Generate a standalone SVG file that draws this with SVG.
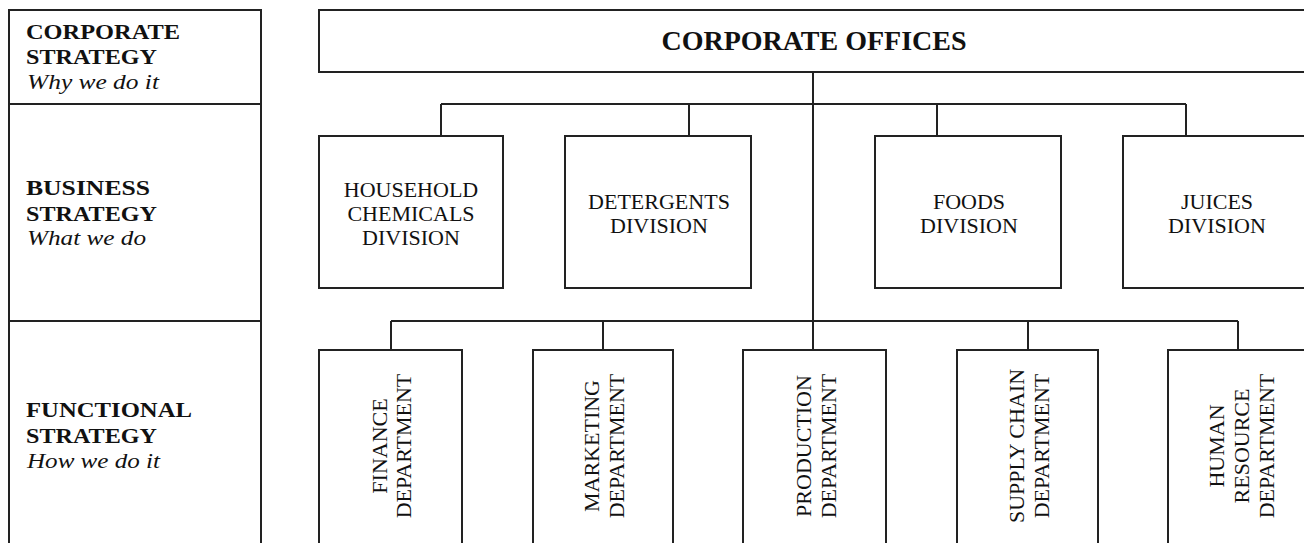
<svg xmlns="http://www.w3.org/2000/svg" width="1304" height="543" viewBox="0 0 1304 543">
<style>
.box{fill:#fff;stroke:#222;stroke-width:2}
.ln{fill:none;stroke:#222;stroke-width:2}
.t{font-family:"Liberation Serif","Times New Roman",serif;font-size:22px;fill:#111;text-anchor:middle}
.lb{font-family:"Liberation Serif","Times New Roman",serif;font-size:22px;fill:#111;font-weight:bold}
.li{font-family:"Liberation Serif","Times New Roman",serif;font-size:22px;fill:#111;font-style:italic}
.title{font-family:"Liberation Serif","Times New Roman",serif;font-size:28px;font-weight:bold;fill:#111;text-anchor:middle}
</style>
<rect x="0" y="0" width="1304" height="543" fill="#fff"/>
<g id="strategy-column">
<rect class="box" x="9" y="10" width="252" height="560"/>
<line class="ln" x1="9" y1="104" x2="261" y2="104"/>
<line class="ln" x1="9" y1="321" x2="261" y2="321"/>
<text class="lb" x="26" y="39" textLength="154" lengthAdjust="spacingAndGlyphs">CORPORATE</text>
<text class="lb" x="26" y="64" textLength="131" lengthAdjust="spacingAndGlyphs">STRATEGY</text>
<text class="li" x="27" y="89" textLength="132" lengthAdjust="spacingAndGlyphs">Why we do it</text>
<text class="lb" x="26" y="195" textLength="124" lengthAdjust="spacingAndGlyphs">BUSINESS</text>
<text class="lb" x="26" y="221" textLength="131" lengthAdjust="spacingAndGlyphs">STRATEGY</text>
<text class="li" x="27" y="245" textLength="119" lengthAdjust="spacingAndGlyphs">What we do</text>
<text class="lb" x="26" y="417" textLength="166" lengthAdjust="spacingAndGlyphs">FUNCTIONAL</text>
<text class="lb" x="26" y="443" textLength="131" lengthAdjust="spacingAndGlyphs">STRATEGY</text>
<text class="li" x="27" y="468" textLength="133" lengthAdjust="spacingAndGlyphs">How we do it</text>
</g>
<g id="connectors">
<line class="ln" x1="813" y1="72" x2="813" y2="350"/>
<line class="ln" x1="441" y1="104" x2="1186" y2="104"/>
<line class="ln" x1="441" y1="104" x2="441" y2="136"/>
<line class="ln" x1="689" y1="104" x2="689" y2="136"/>
<line class="ln" x1="937" y1="104" x2="937" y2="136"/>
<line class="ln" x1="1186" y1="104" x2="1186" y2="136"/>
<line class="ln" x1="391" y1="321" x2="1238" y2="321"/>
<line class="ln" x1="391" y1="321" x2="391" y2="350"/>
<line class="ln" x1="603" y1="321" x2="603" y2="350"/>
<line class="ln" x1="1028" y1="321" x2="1028" y2="350"/>
<line class="ln" x1="1238" y1="321" x2="1238" y2="350"/>
</g>
<g id="corporate-offices">
<rect class="box" x="319" y="10" width="1000" height="62"/>
<text class="title" x="814" y="50">CORPORATE OFFICES</text>
</g>
<g id="household">
<rect class="box" x="319" y="136" width="184" height="152"/>
<text class="t" x="411" y="197">HOUSEHOLD</text>
<text class="t" x="411" y="221">CHEMICALS</text>
<text class="t" x="411" y="245">DIVISION</text>
</g>
<g id="detergents">
<rect class="box" x="565" y="136" width="186" height="152"/>
<text class="t" x="659" y="209">DETERGENTS</text>
<text class="t" x="659" y="233">DIVISION</text>
</g>
<g id="foods">
<rect class="box" x="875" y="136" width="186" height="152"/>
<text class="t" x="969" y="209">FOODS</text>
<text class="t" x="969" y="233">DIVISION</text>
</g>
<g id="juices">
<rect class="box" x="1123" y="136" width="187" height="152"/>
<text class="t" x="1217" y="209">JUICES</text>
<text class="t" x="1217" y="233">DIVISION</text>
</g>
<g id="finance">
<rect class="box" x="319" y="350" width="143" height="220"/>
<g transform="translate(390,446) rotate(-90)">
<text class="t" x="0" y="-3">FINANCE</text>
<text class="t" x="0" y="21">DEPARTMENT</text>
</g>
</g>
<g id="marketing">
<rect class="box" x="533" y="350" width="140" height="220"/>
<g transform="translate(603,446) rotate(-90)">
<text class="t" x="0" y="-4">MARKETING</text>
<text class="t" x="0" y="21">DEPARTMENT</text>
</g>
</g>
<g id="production">
<rect class="box" x="743" y="350" width="143" height="220"/>
<g transform="translate(814.5,446) rotate(-90)">
<text class="t" x="0" y="-4">PRODUCTION</text>
<text class="t" x="0" y="21">DEPARTMENT</text>
</g>
</g>
<g id="supply-chain">
<rect class="box" x="957" y="350" width="141" height="220"/>
<g transform="translate(1027.5,446) rotate(-90)">
<text class="t" x="0" y="-4">SUPPLY CHAIN</text>
<text class="t" x="0" y="21">DEPARTMENT</text>
</g>
</g>
<g id="human-resource">
<rect class="box" x="1168" y="350" width="141" height="220"/>
<g transform="translate(1238.5,446) rotate(-90)">
<text class="t" x="0" y="-15">HUMAN</text>
<text class="t" x="0" y="10">RESOURCE</text>
<text class="t" x="0" y="35">DEPARTMENT</text>
</g>
</g>
</svg>
